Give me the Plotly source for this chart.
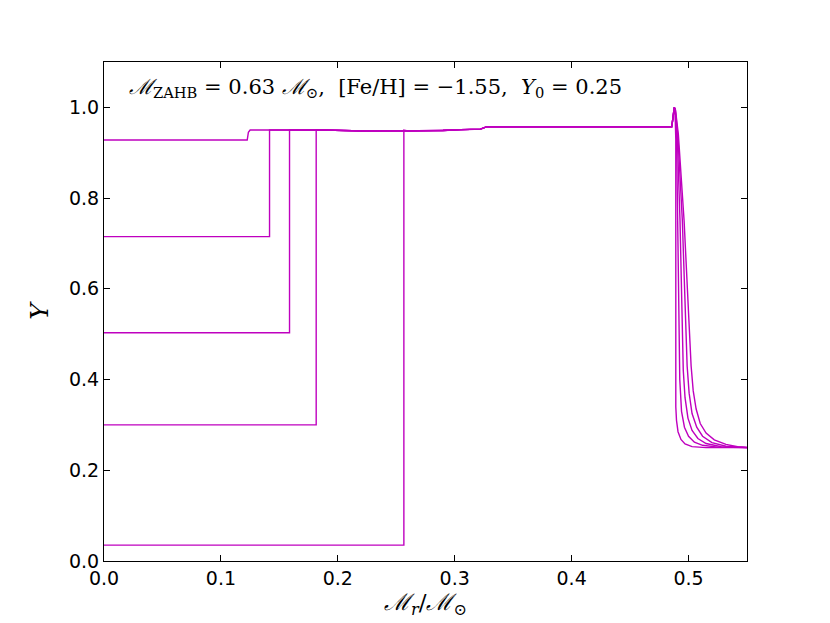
import plotly.graph_objects as go

# core helium before the jump, and where the jump to the shell value sits
start_y = [0.928, 0.715, 0.503, 0.300, 0.035]
jump_x = [0.1225, 0.1416, 0.1587, 0.1815, 0.2565]

# helium profile shared by all models above the former core
top_x = [0.125, 0.19, 0.22, 0.26, 0.29, 0.305, 0.322, 0.327, 0.4856, 0.4866, 0.4872]
top_y = [0.950, 0.950, 0.948, 0.948, 0.949, 0.951, 0.952, 0.957, 0.957, 0.975, 0.995]

# helium spike and drop towards the envelope, one per model
tail_x = [
    [0.4878, 0.4884, 0.4889, 0.4891, 0.4891, 0.4897, 0.491, 0.4935, 0.497, 0.503, 0.515, 0.55],
    [0.4878, 0.4885, 0.4891, 0.4897, 0.4907, 0.4919, 0.4925, 0.494, 0.4965, 0.500, 0.505, 0.512, 0.525, 0.55],
    [0.4878, 0.4886, 0.4893, 0.4903, 0.4927, 0.4947, 0.4955, 0.497, 0.4995, 0.503, 0.508, 0.515, 0.528, 0.55],
    [0.4878, 0.4887, 0.4895, 0.4908, 0.4947, 0.4976, 0.4988, 0.5005, 0.503, 0.507, 0.512, 0.520, 0.532, 0.55],
    [0.4878, 0.4888, 0.4897, 0.4913, 0.4962, 0.5007, 0.5022, 0.504, 0.5065, 0.510, 0.515, 0.522, 0.532, 0.542, 0.55],
]
tail_y = [
    [1.0, 0.995, 0.97, 0.93, 0.34, 0.31, 0.285, 0.268, 0.258, 0.252, 0.25, 0.25],
    [1.0, 0.995, 0.975, 0.94, 0.75, 0.51, 0.40, 0.33, 0.295, 0.275, 0.262, 0.255, 0.251, 0.25],
    [1.0, 0.995, 0.975, 0.94, 0.75, 0.51, 0.42, 0.36, 0.315, 0.288, 0.27, 0.259, 0.252, 0.25],
    [1.0, 0.995, 0.975, 0.94, 0.75, 0.51, 0.43, 0.37, 0.325, 0.295, 0.275, 0.261, 0.253, 0.25],
    [1.0, 0.995, 0.975, 0.94, 0.75, 0.51, 0.43, 0.375, 0.335, 0.303, 0.282, 0.267, 0.257, 0.252, 0.251],
]

colour = "#BF00BF"
fig = go.Figure()

for i in range(len(start_y)):
    if i == 0:
        # the first model climbs with a short ramp instead of a vertical jump
        xs = [0, jump_x[i], 0.1235]
        ys = [start_y[i], start_y[i], 0.945]
        xs += top_x
        ys += top_y
    else:
        xs = [0, jump_x[i], jump_x[i]]
        ys = [start_y[i], start_y[i], 0.950]
        keep = [k for k in range(len(top_x)) if top_x[k] > jump_x[i]]
        xs += [top_x[k] for k in keep]
        ys += [top_y[k] for k in keep]
    xs += tail_x[i]
    ys += tail_y[i]
    fig.add_trace(go.Scatter(x=xs, y=ys, mode="lines",
                             line=dict(color=colour, width=1.4),
                             showlegend=False, hoverinfo="skip"))

fig.add_annotation(
    x=0.02, y=1.043, xref="x", yref="y", xanchor="left", yanchor="middle",
    text="<i>ℳ</i><sub>ZAHB</sub> = 0.63 <i>ℳ</i><sub>⊙</sub>,  [Fe/H] = −1.55,  <i>Y</i><sub>0</sub> = 0.25",
    showarrow=False, font=dict(family="DejaVu Serif", size=21, color="black"))

axis_common = dict(showline=True, linecolor="black", linewidth=1, mirror="ticks",
                   ticks="inside", ticklen=6, tickcolor="black", showgrid=False,
                   zeroline=False, tickfont=dict(family="DejaVu Sans", size=19, color="black"))

fig.update_xaxes(range=[0, 0.55], dtick=0.1, tickformat=".1f",
                 title=dict(text="<i>ℳ</i><sub><i>r</i></sub>/<i>ℳ</i><sub>⊙</sub>",
                            font=dict(family="DejaVu Serif", size=23, color="black"),
                            standoff=4),
                 **axis_common)
fig.update_yaxes(range=[0, 1.1], dtick=0.2, tickformat=".1f",
                 title=dict(text="<i>Y</i>",
                            font=dict(family="DejaVu Serif", size=25, color="black"),
                            standoff=13),
                 **axis_common)

# the page body adds an 8 px offset, so the margins are trimmed to keep the
# plot frame where the reference has it
fig.update_layout(width=830, height=623, plot_bgcolor="white", paper_bgcolor="white",
                  margin=dict(l=96, r=91, t=54, b=70))

fig.write_html("out.html")
